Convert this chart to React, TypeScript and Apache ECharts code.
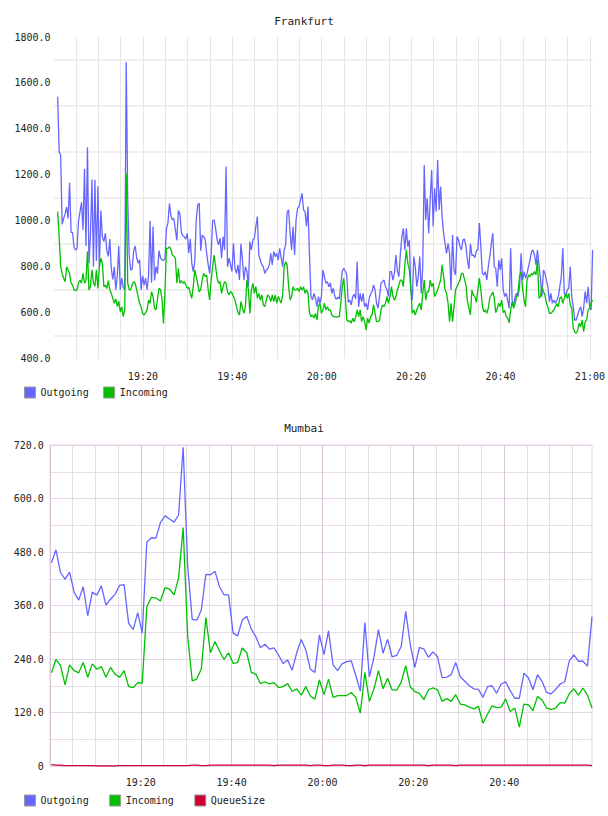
import { useEffect, useRef } from "react";
import * as echarts from "echarts";

const FONT = '"DejaVu Sans Mono", monospace';

const COLOR_OUT = "#6666ff";
const COLOR_IN = "#00c000";
const COLOR_QUEUE = "#cc0033";

// Frankfurt: 20-second samples, first one at 19:00:56 (minutes after 19:00)
const FRA_START_MIN = 56 / 60;
const FRA_STEP_MIN = 1 / 3;

const fraOutgoing = [
  1540, 1300, 1285, 985, 1010, 1030, 1060, 1010, 1165, 950,
  948, 885, 872, 880, 1000, 1040, 1080, 960, 1225, 890,
  1320, 815, 940, 1180, 800, 1178, 825, 1150, 800, 1045,
  930, 910, 945, 870, 845, 920, 790, 745, 800, 700,
  760, 890, 700, 750, 710, 700, 1690, 1100, 850, 785,
  790, 870, 890, 840, 815, 830, 700, 760, 720, 750,
  700, 760, 1000, 730, 975, 740, 800, 770, 870, 840,
  830, 828, 835, 965, 990, 1075, 1020, 1005, 1010, 960,
  915, 1045, 1030, 950, 935, 930, 920, 945, 860,
  920, 815, 779, 822, 1004, 1069, 1076, 870, 938, 931,
  917, 858, 810, 771, 850, 1000, 1004, 967, 917, 895,
  924, 837, 931, 873, 1236, 800, 837, 808, 779, 902,
  793, 771, 808, 742, 900, 830, 742, 800, 779, 713,
  909, 873, 917, 924, 975, 1018, 850, 829, 808, 800,
  771, 786, 790, 808, 858, 808, 866, 844, 858, 829,
  880, 840, 800, 873, 895, 1040, 1047, 946, 873, 975,
  851, 1004, 1054, 1062, 1090, 1120, 1047, 1040, 975, 1062,
  850, 670, 655, 684, 663, 626, 670, 641, 670, 786,
  757, 728, 735, 713,
  730, 684, 706, 670, 658, 668, 660, 720, 780, 793,
  780, 765, 645, 655, 634, 670, 680, 660, 822, 626,
  684, 648, 684, 626, 641, 612, 660, 680, 692, 721,
  699, 641, 619, 670, 728, 735, 742, 713, 700, 670,
  779, 779, 742, 771, 851, 780, 757, 858, 931, 967,
  873, 967, 887, 917, 700, 655, 844, 800, 713, 757,
  844, 684, 800, 1243, 1004, 1098, 946, 1090, 1221, 975,
  1141, 1040, 1265, 1047, 1149, 1018, 946, 902, 858, 902,
  860, 699, 938, 786, 764, 931, 917, 887, 873, 917,
  920, 890, 830, 790, 900, 850, 850, 840, 870, 873,
  990, 887, 771, 764, 779, 742, 800, 844, 900, 946,
  800, 793, 713, 829, 786, 837, 699, 670, 684, 655,
  619, 880, 655, 626, 670, 684, 670, 713, 858, 742,
  779, 750, 771, 800, 829, 866, 873, 851, 808, 873,
  808, 750, 670, 786, 771, 742, 713, 648, 684, 641,
  655, 641, 655, 670, 713, 757, 880, 684, 670, 699,
  706, 800, 670, 626, 568, 568, 590, 612, 626, 583,
  619, 692, 641, 713, 626, 612, 873,
];

const fraIncoming = [
  1040, 931, 800, 771, 750, 735, 800, 785, 770, 728,
  720, 699, 696, 700, 730, 742, 728, 771, 728, 740,
  866, 699, 715, 786, 730, 715, 786, 705, 800, 837,
  815, 713, 720, 705, 740, 699, 684, 662, 641, 660,
  626, 650, 604, 625, 583, 612, 1206, 728, 700, 699,
  720, 735, 728, 700, 670, 641, 625, 595, 590, 600,
  612, 655, 640, 691, 670, 620, 612, 660, 706, 700,
  660, 553, 690, 880, 880, 887, 875, 851, 845, 837,
  728, 793, 728, 740, 728, 735, 720, 706, 710,
  684, 663, 713, 786, 757, 725, 690, 700, 742, 771,
  757, 764, 699, 655, 742, 800, 851, 800, 750, 728,
  735, 684, 713, 735, 728, 690, 677, 692, 685, 670,
  655, 626, 600, 590, 648, 620, 597, 626, 742, 699,
  597, 699, 728, 684, 713, 663, 684, 655, 677, 634,
  626, 655, 677, 670, 648, 677, 648, 677, 641, 670,
  655, 641, 677, 800, 822, 808, 713, 655, 670, 713,
  699, 699, 706, 692, 713, 699, 713, 684, 700, 684,
  600, 583, 590, 576, 597, 568, 626, 641, 597, 612,
  641, 612, 626, 610,
  612, 590, 583, 583, 580, 583, 583, 640, 713, 750,
  670, 568, 561, 565, 554, 576, 560, 580, 612, 583,
  612, 561, 583, 561, 525, 576, 554, 583, 590, 634,
  597, 561, 561, 568, 612, 634, 626, 640, 670, 641,
  670, 713, 670, 655, 670, 700, 720, 742, 742, 713,
  808, 873, 815, 786, 706, 597, 612, 590, 612, 630,
  641, 612, 684, 742, 655, 692, 692, 742, 713, 728,
  670, 684, 699, 720, 742, 808, 757, 699, 684, 641,
  561, 641, 561, 626, 699, 713, 728, 742, 771, 771,
  745, 720, 650, 620, 590, 699, 677, 670, 645, 700,
  750, 700, 630, 604, 612, 597, 619, 665, 677, 690,
  663, 600, 619, 641, 626, 655, 600, 610, 583, 576,
  556, 612, 648, 619, 641, 670, 690, 760, 779, 706,
  655, 626, 742, 764, 757, 771, 764, 779, 764, 829,
  663, 670, 713, 692, 677, 641, 626, 597, 597, 604,
  612, 626, 640, 626, 663, 670, 641, 663, 684, 663,
  684, 634, 619, 532, 517, 510, 525, 554, 539, 568,
  517, 561, 568, 612, 619, 641, 655,
];

// Mumbai: 1-minute samples, first one at 19:00:20
const MUM_START_MIN = 20 / 60;
const MUM_STEP_MIN = 1;

const mumOutgoing = [
  456, 485, 434, 419, 435, 390, 372, 402, 337, 390,
  383, 404, 361, 374, 385, 405, 407, 320, 306, 344,
  298, 502, 512, 511, 546, 561, 554, 547, 563, 715,
  447, 329, 327, 350, 430, 429, 437, 402, 384, 384,
  298, 292, 327, 336, 307, 290, 265, 273, 262, 265,
  249, 230, 238, 215, 254, 284, 260, 217, 210, 294,
  250, 303, 227, 214, 229, 234, 236, 203, 168, 322,
  200, 244, 306, 253, 284, 245, 248, 268, 347, 272,
  221, 266, 262, 244, 256, 245, 198, 199, 205, 232,
  200, 190, 180, 173, 172, 154, 178, 180, 163, 184,
  189, 169, 152, 152, 208, 198, 171, 205, 190, 165,
  162, 172, 184, 189, 236, 249, 235, 235, 224, 335,
];

const mumIncoming = [
  209, 239, 225, 182, 227, 214, 209, 232, 199, 229,
  217, 223, 199, 221, 206, 199, 214, 178, 176, 187,
  186, 357, 378, 377, 370, 400, 397, 384, 422, 535,
  290, 191, 195, 218, 333, 254, 279, 258, 239, 254,
  230, 232, 265, 254, 210, 206, 185, 189, 184, 187,
  176, 178, 185, 167, 173, 159, 178, 157, 150, 193,
  160, 195, 154, 158, 158, 158, 165, 154, 119, 210,
  145, 173, 214, 173, 197, 171, 170, 188, 225, 177,
  167, 163, 149, 171, 175, 171, 145, 151, 145, 160,
  139, 137, 132, 128, 134, 96, 116, 135, 131, 132,
  150, 122, 130, 87, 139, 137, 124, 156, 148, 130,
  127, 130, 142, 141, 162, 173, 159, 175, 159, 130,
];

const mumQueueSize = [
  3, 2, 2, 1, 1, 1, 1, 1, 1, 1,
  0, 0, 0, 0, 0, 1, 1, 1, 1, 1,
  1, 1, 1, 1, 1, 1, 1, 1, 1, 1,
  1, 2, 2, 1, 1, 2, 2, 2, 2, 2,
  2, 2, 2, 2, 2, 2, 2, 2, 2, 1,
  2, 2, 2, 2, 2, 2, 2, 1, 2, 2,
  1, 1, 2, 2, 2, 1, 1, 2, 2, 1,
  2, 2, 2, 2, 2, 2, 2, 2, 2, 2,
  2, 2, 2, 1, 2, 2, 2, 2, 2, 1,
  2, 2, 2, 2, 2, 2, 2, 2, 2, 2,
  2, 2, 2, 2, 2, 2, 2, 2, 2, 2,
  2, 2, 2, 2, 2, 2, 2, 2, 2, 1,
];

const toPoints = (values: number[], start: number, step: number) =>
  values.map((v, i) => [start + i * step, v]);

const lastTime = (values: number[], start: number, step: number) =>
  start + (values.length - 1) * step;

// minutes after 19:00 -> "HH:MM"
const clock = (m: number) => {
  const t = 19 * 60 + Math.round(m);
  const h = Math.floor(t / 60);
  const mm = t % 60;
  return `${h}:${String(mm).padStart(2, "0")}`;
};

const every20 = (v: number) =>
  v > 0 && Math.abs(v % 20) < 1e-6 ? clock(v) : "";

const labelStyle = { color: "#222", fontFamily: FONT, fontSize: 10 };

export default function App() {
  const ref = useRef<HTMLDivElement>(null);

  useEffect(() => {
    if (!ref.current) return;
    const chart = echarts.init(ref.current, undefined, { renderer: "svg" });

    const fraMax = lastTime(fraOutgoing, FRA_START_MIN, FRA_STEP_MIN);
    const mumMax = lastTime(mumOutgoing, MUM_START_MIN, MUM_STEP_MIN);

    const line = (
      name: string,
      color: string,
      data: number[][],
      axis: number,
      z: number
    ) => ({
      name,
      type: "line",
      xAxisIndex: axis,
      yAxisIndex: axis,
      data,
      showSymbol: false,
      symbol: "none",
      z,
      lineStyle: { color, width: 1.3 },
      itemStyle: { color },
    });

    chart.setOption({
      animation: false,
      backgroundColor: "#fff",
      title: [
        {
          text: "Frankfurt",
          left: "center",
          top: 11,
          textStyle: { fontFamily: FONT, fontSize: 11, fontWeight: "normal", color: "#222" },
        },
        {
          text: "Mumbai",
          left: "center",
          top: 418,
          textStyle: { fontFamily: FONT, fontSize: 11, fontWeight: "normal", color: "#222" },
        },
      ],
      legend: [
        {
          data: ["Outgoing", "Incoming"],
          left: 24,
          top: 386.5,
          orient: "horizontal",
          icon: "rect",
          itemWidth: 11,
          itemHeight: 11,
          itemGap: 14.5,
          padding: 0,
          selectedMode: false,
          itemStyle: { borderColor: "#999", borderWidth: 1 },
          textStyle: { fontFamily: FONT, fontSize: 10, color: "#222" },
        },
        {
          data: ["Outgoing", "Incoming", "QueueSize"],
          left: 24,
          top: 794.5,
          orient: "horizontal",
          icon: "rect",
          itemWidth: 11,
          itemHeight: 11,
          itemGap: 20.5,
          padding: 0,
          selectedMode: false,
          itemStyle: { borderColor: "#999", borderWidth: 1 },
          textStyle: { fontFamily: FONT, fontSize: 10, color: "#222" },
        },
      ],
      grid: [
        { left: 53.5, top: 37, width: 539.1, height: 321.6, show: false },
        {
          left: 49.9,
          top: 445,
          width: 542.1,
          height: 321,
          show: true,
          borderColor: "#e4d2e6",
          borderWidth: 1,
          backgroundColor: "transparent",
        },
      ],
      xAxis: [
        {
          type: "value",
          gridIndex: 0,
          min: 0,
          max: fraMax,
          interval: 5,
          axisLine: { show: false },
          axisTick: { show: false },
          axisLabel: { ...labelStyle, margin: 13, formatter: every20 },
          splitLine: {
            show: true,
            showMinLine: false,
            showMaxLine: false,
            lineStyle: { color: "#e6e6e6", width: 1 },
          },
        },
        {
          type: "value",
          gridIndex: 1,
          min: 0,
          max: mumMax,
          interval: 5,
          axisLine: { show: false },
          axisTick: { show: false },
          axisLabel: { ...labelStyle, margin: 11, formatter: every20 },
          splitLine: {
            show: true,
            showMaxLine: false,
            lineStyle: { color: ["#dcc6de", "#e3dfe5", "#e3dfe5", "#e3dfe5"], width: 1 },
          },
        },
      ],
      yAxis: [
        {
          type: "value",
          gridIndex: 0,
          min: 400,
          max: 1800,
          interval: 100,
          axisLine: { show: false },
          axisTick: { show: false },
          axisLabel: {
            ...labelStyle,
            margin: 3,
            formatter: (v: number) => (v % 200 === 0 ? v.toFixed(1) : ""),
          },
          splitLine: {
            show: true,
            lineStyle: { color: ["rgba(0,0,0,0)", "#efefef"], width: 2 },
          },
        },
        {
          type: "value",
          gridIndex: 1,
          min: 0,
          max: 720,
          interval: 60,
          axisLine: { show: false },
          axisTick: { show: false },
          axisLabel: {
            ...labelStyle,
            margin: 6,
            formatter: (v: number) =>
              v % 120 === 0 ? (v === 0 ? "0" : v.toFixed(1)) : "",
          },
          splitLine: {
            show: true,
            lineStyle: { color: ["#e6d4e8", "#e3dfe5"], width: 1 },
          },
        },
      ],
      series: [
        line("Outgoing", COLOR_OUT, toPoints(fraOutgoing, FRA_START_MIN, FRA_STEP_MIN), 0, 2),
        line("Incoming", COLOR_IN, toPoints(fraIncoming, FRA_START_MIN, FRA_STEP_MIN), 0, 3),
        line("Outgoing", COLOR_OUT, toPoints(mumOutgoing, MUM_START_MIN, MUM_STEP_MIN), 1, 2),
        line("Incoming", COLOR_IN, toPoints(mumIncoming, MUM_START_MIN, MUM_STEP_MIN), 1, 3),
        line("QueueSize", COLOR_QUEUE, toPoints(mumQueueSize, MUM_START_MIN, MUM_STEP_MIN), 1, 4),
      ],
    });

    return () => chart.dispose();
  }, []);

  return (
    <div
      ref={ref}
      style={{
        position: "fixed",
        left: 0,
        top: 0,
        width: 608,
        height: 816,
        background: "#fff",
      }}
    />
  );
}
